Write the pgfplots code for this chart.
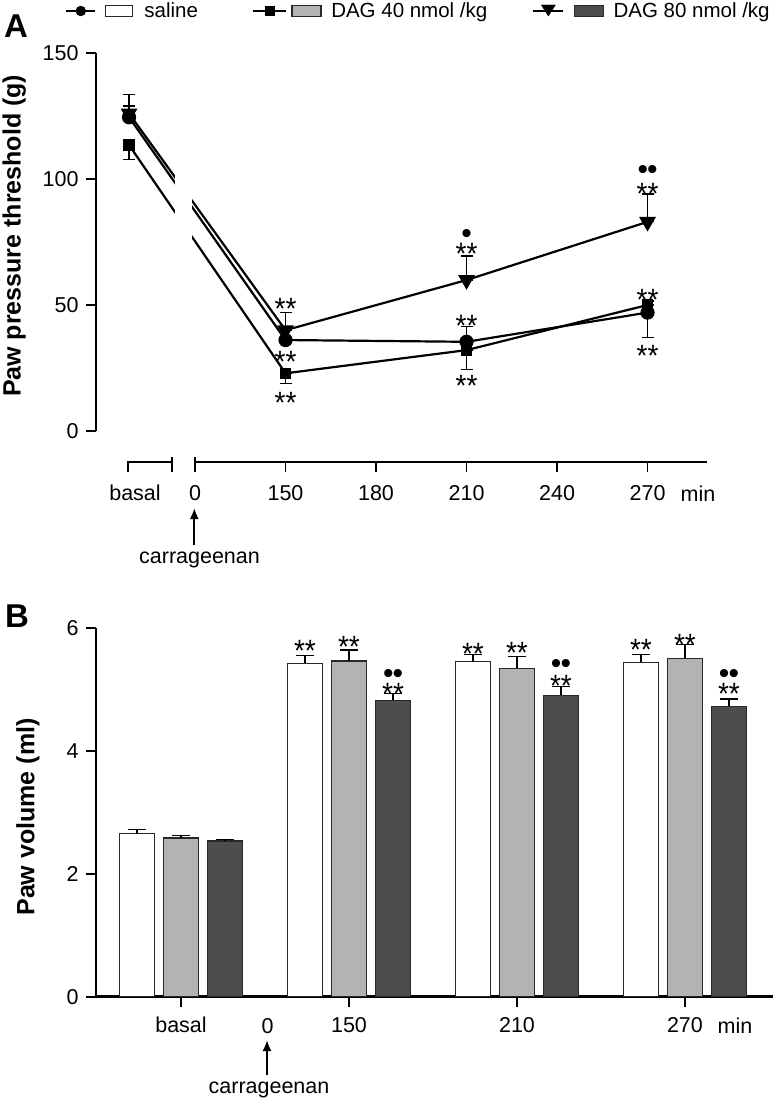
\documentclass[border=0pt]{standalone}
\usepackage{fontspec}
\setmainfont{Liberation Sans}
\usepackage{graphicx}
\usepackage{pgfplots}
\pgfplotsset{compat=1.18}
\usetikzlibrary{arrows.meta}
\definecolor{midgrey}{RGB}{179,179,179}
\definecolor{darkgrey}{RGB}{77,77,77}
\definecolor{edge}{RGB}{40,40,40}
\newcommand{\sig}{\scalebox{1}[1.1]{\fontsize{28}{28}\selectfont **}}
\newcommand{\dd}{{\fontsize{30}{30}\selectfont\textbullet\kern-1pt\textbullet}}
\newcommand{\ds}{{\fontsize{30}{30}\selectfont\textbullet}}
\tikzset{sigs/.style={anchor=base, yshift=-17.6pt, inner sep=0pt},
         dts/.style={anchor=base, yshift=-11.5pt, inner sep=0pt}}
\begin{document}
\begin{tikzpicture}[x=1pt,y=1pt]
\path[use as bounding box] (0,0) rectangle (774,-1100);
% ---------------- Panel A ----------------
\begin{axis}[
  at={(96pt,-462pt)}, anchor=south west, scale only axis,
  width=611pt, height=409pt,
  xmin=-1.094, xmax=5.657, ymin=-12.3, ymax=150,
  axis lines*=left, axis line style={draw=none},
  xtick={0,1,2,3,4,5}, xticklabels={0,150,180,210,240,270},
  ytick={0,50,100,150},
  tick align=outside, major tick length=10pt,
  tick style={black, line width=1.8pt},
  ticklabel style={font=\fontsize{21.5}{24}\selectfont},
  xticklabel style={yshift=-9.5pt},
  yticklabel style={xshift=-4pt},
  /pgf/number format/assume math mode=true,
  ylabel={Paw pressure threshold (g)},
  ylabel style={font=\fontsize{25}{30}\selectfont\bfseries, at={(axis description cs:-0.134,0.553)}, anchor=center},
  clip=false,
  legend columns=3, legend cell align=left,
  legend style={draw=none, fill=none, at={(axis description cs:-0.0555,1.1027)}, anchor=west,
    font=\fontsize{20.5}{23}\selectfont,
    /tikz/column 2/.style={column sep=52pt},
    /tikz/column 4/.style={column sep=43pt}},
]
\addlegendimage{legend image code/.code={
  \draw[line width=2pt] (0pt,0pt) -- (29pt,0pt);
  \fill (14.5pt,0pt) circle (5pt);
  \draw[line width=1.2pt, draw=edge, fill=white] (39pt,-5.5pt) rectangle (66pt,5.5pt);
  \path (76pt,0pt);}}
\addlegendentry{saline}
\addlegendimage{legend image code/.code={
  \draw[line width=2pt] (0pt,0pt) -- (33pt,0pt);
  \fill (12pt,-4.5pt) rectangle (21pt,4.5pt);
  \draw[line width=1.2pt, draw=edge, fill=midgrey] (39pt,-5.5pt) rectangle (68pt,5.5pt);
  \path (76pt,0pt);}}
\addlegendentry{DAG 40 nmol /kg}
\addlegendimage{legend image code/.code={
  \draw[line width=2pt] (0pt,0pt) -- (30pt,0pt);
  \fill (15pt,-5pt) -- (8pt,6pt) -- (22pt,6pt) -- cycle;
  \draw[line width=1.2pt, draw=edge, fill=darkgrey] (41pt,-5.5pt) rectangle (70pt,5.5pt);
  \path (78pt,0pt);}}
\addlegendentry{DAG 80 nmol /kg}

% saline
\addplot[black, line width=2.2pt, mark=*, mark size=6pt, mark options={solid}, forget plot,
  error bars/.cd, y dir=both, y explicit,
  error bar style={line width=1.3pt, black},
  error mark options={rotate=90, mark size=6pt, line width=1.3pt, black}]
 coordinates {(-0.729,124.5) += (0,4.5) -= (0,0) (1,36.1) += (0,0) -= (0,0)
              (3,35.4) += (0,6) -= (0,0) (5,47) += (0,0) -= (0,10)};
% DAG 40
\addplot[black, line width=2.2pt, mark=square*, mark size=4.5pt, mark options={solid}, forget plot,
  error bars/.cd, y dir=both, y explicit,
  error bar style={line width=1.3pt, black},
  error mark options={rotate=90, mark size=6pt, line width=1.3pt, black}]
 coordinates {(-0.729,113.5) += (0,0) -= (0,5.7) (1,22.9) += (0,0) -= (0,4)
              (3,32.1) += (0,0) -= (0,7.6) (5,50) += (0,1.6) -= (0,0)};
% DAG 80
\addplot[black, line width=2.2pt, mark=triangle*, mark size=7.5pt, mark options={solid, rotate=180}, forget plot,
  error bars/.cd, y dir=both, y explicit,
  error bar style={line width=1.3pt, black},
  error mark options={rotate=90, mark size=6pt, line width=1.3pt, black}]
 coordinates {(-0.729,126) += (0,7.6) -= (0,0) (1,40) += (0,7) -= (0,0)
              (3,59.9) += (0,9.5) -= (0,0) (5,83) += (0,11) -= (0,0)};

\fill[white] (axis cs:-0.221,55) rectangle (axis cs:-0.033,118);
% axis lines
\draw[line width=2.5pt] (axis cs:-1.094,0) -- (axis cs:-1.094,150);
\draw[line width=2.5pt] (axis cs:0,-12.3) -- (axis cs:5.657,-12.3);
\draw[line width=2.5pt] (axis cs:-0.743,-16.3) -- (axis cs:-0.743,-12.3) -- (axis cs:-0.257,-12.3);
\draw[line width=2.5pt] (axis cs:-0.257,-16.3) -- (axis cs:-0.257,-10.3);
\draw[line width=1.8pt] (axis cs:0,-10.3) -- (axis cs:0,-12.3);
% significance
\node[sigs] at (axis cs:1,51.3) {\sig};
\node[sigs] at (axis cs:1,30.2) {\sig};
\node[sigs] at (axis cs:1,14) {\sig};
\node[dts] at (axis cs:3,79) {\ds};
\node[sigs] at (axis cs:3,73) {\sig};
\node[sigs] at (axis cs:3,44.4) {\sig};
\node[sigs] at (axis cs:3,20.6) {\sig};
\node[dts] at (axis cs:5,104.4) {\dd};
\node[sigs] at (axis cs:5,97) {\sig};
\node[sigs] at (axis cs:5,55) {\sig};
\node[sigs] at (axis cs:5,32.5) {\sig};
\end{axis}
\node[anchor=base, font=\fontsize{33}{33}\selectfont\bfseries] at (16,-37) {A};
\node[anchor=base, font=\fontsize{21.5}{24}\selectfont] at (135,-500) {basal};
\node[anchor=base, font=\fontsize{21.5}{24}\selectfont] at (698,-501) {min};
\draw[-{Latex[length=11pt,width=9pt]}, line width=2pt] (194.3,-545) -- (194.3,-508);
\node[anchor=base, font=\fontsize{21.5}{24}\selectfont] at (199.5,-563) {carrageenan};

% ---------------- Panel B ----------------
\begin{axis}[
  at={(96pt,-996.7pt)}, anchor=south west, scale only axis,
  width=677pt, height=369pt,
  xmin=-0.506, xmax=3.524, ymin=0, ymax=6,
  axis lines*=left, axis line style={line width=2.5pt, black},
  ybar=9pt, bar width=35pt,
  xtick={0,1,2,3}, xticklabels={basal,150,210,270},
  ytick={0,2,4,6},
  tick align=outside, major tick length=10pt,
  tick style={black, line width=1.8pt},
  ticklabel style={font=\fontsize{21.5}{24}\selectfont},
  xticklabel style={yshift=-7pt},
  yticklabel style={xshift=-4pt},
  /pgf/number format/assume math mode=true,
  ylabel={Paw volume (ml)},
  ylabel style={font=\fontsize{25}{30}\selectfont\bfseries, at={(axis description cs:-0.1004,0.487)}, anchor=center},
  clip=false,
]
\addplot[ybar, fill=white, draw=edge, line width=1.3pt,
  error bars/.cd, y dir=plus, y explicit,
  error bar style={line width=1.3pt, black},
  error mark options={rotate=90, mark size=9pt, line width=1.3pt, black}]
 coordinates {(0,2.65) +- (0,0.07) (1,5.42) +- (0,0.13) (2,5.45) +- (0,0.11) (3,5.44) +- (0,0.12)};
\addplot[ybar, fill=midgrey, draw=edge, line width=1.3pt,
  error bars/.cd, y dir=plus, y explicit,
  error bar style={line width=1.3pt, black},
  error mark options={rotate=90, mark size=9pt, line width=1.3pt, black}]
 coordinates {(0,2.58) +- (0,0.04) (1,5.46) +- (0,0.18) (2,5.34) +- (0,0.19) (3,5.50) +- (0,0.23)};
\addplot[ybar, fill=darkgrey, draw=edge, line width=1.3pt,
  error bars/.cd, y dir=plus, y explicit,
  error bar style={line width=1.3pt, black},
  error mark options={rotate=90, mark size=9pt, line width=1.3pt, black}]
 coordinates {(0,2.53) +- (0,0.03) (1,4.82) +- (0,0.11) (2,4.90) +- (0,0.14) (3,4.72) +- (0,0.12)};
\node[sigs] at (axis cs:0.738,5.74) {\sig};
\node[sigs] at (axis cs:1,5.80) {\sig};
\node[dts] at (axis cs:1.262,5.28) {\dd};
\node[sigs] at (axis cs:1.262,5.03) {\sig};
\node[sigs] at (axis cs:1.738,5.68) {\sig};
\node[sigs] at (axis cs:2,5.71) {\sig};
\node[dts] at (axis cs:2.262,5.45) {\dd};
\node[sigs] at (axis cs:2.262,5.17) {\sig};
\node[sigs] at (axis cs:2.738,5.76) {\sig};
\node[sigs] at (axis cs:3,5.83) {\sig};
\node[dts] at (axis cs:3.262,5.28) {\dd};
\node[sigs] at (axis cs:3.262,5.04) {\sig};
\end{axis}
\node[anchor=base, font=\fontsize{33}{33}\selectfont\bfseries] at (17,-627) {B};
\node[anchor=base, font=\fontsize{21.5}{24}\selectfont] at (267.5,-1033) {0};
\node[anchor=base, font=\fontsize{21.5}{24}\selectfont] at (735,-1033) {min};
\draw[-{Latex[length=11pt,width=9pt]}, line width=2pt] (267,-1075) -- (267,-1040);
\node[anchor=base, font=\fontsize{21.5}{24}\selectfont] at (269,-1093) {carrageenan};
\end{tikzpicture}
\end{document}
